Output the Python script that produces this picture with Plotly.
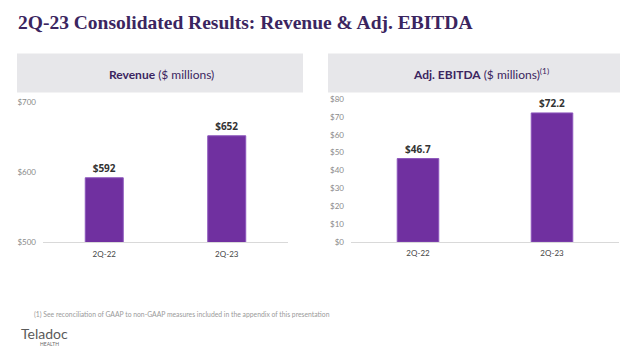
import plotly.graph_objects as go

categories = ["2Q-22", "2Q-23"]
revenue = [592, 652]
ebitda = [46.7, 72.2]
revenue_labels = ["$592", "$652"]
ebitda_labels = ["$46.7", "$72.2"]
rev_ticks = [500, 600, 700]
rev_tick_text = ["$500", "$600", "$700"]
ebitda_ticks = [0, 10, 20, 30, 40, 50, 60, 70, 80]
ebitda_tick_text = ["$0", "$10", "$20", "$30", "$40", "$50", "$60", "$70", "$80"]

W, H = 640, 357
def px(x):
    return x / W
def py(y):
    return 1 - y / H

BAR = "#7030a0"
BAR_EDGE = "#8b55bb"
PURPLE_TXT = "#3b2560"

fig = go.Figure()
fig.add_trace(go.Bar(
    x=categories, y=revenue, text=revenue_labels, textposition="outside",
    textfont=dict(family="Open Sans", size=10, color="#333333", weight="bold"),
    marker=dict(color=BAR, line=dict(color=BAR_EDGE, width=1)),
    xaxis="x", yaxis="y", cliponaxis=False, hoverinfo="skip"))
fig.add_trace(go.Bar(
    x=categories, y=ebitda, text=ebitda_labels, textposition="outside",
    textfont=dict(family="Open Sans", size=10, color="#333333", weight="bold"),
    marker=dict(color=BAR, line=dict(color=BAR_EDGE, width=1)),
    xaxis="x2", yaxis="y2", cliponaxis=False, hoverinfo="skip"))

tickfont = dict(family="Lato", size=8, color="#8a8a8a")
xtickfont = dict(family="Lato", size=8, color="#444444")

fig.update_layout(
    width=W, height=H, margin=dict(l=0, r=0, t=0, b=0),
    paper_bgcolor="white", plot_bgcolor="white",
    showlegend=False, bargap=0.69,
    xaxis=dict(domain=[px(43), px(288)], anchor="y", showgrid=False,
               showline=True, linecolor="#d9d9d9", linewidth=1,
               ticks="", tickfont=xtickfont, ticklabelstandoff=4),
    yaxis=dict(domain=[py(244), py(100)], anchor="x", range=[500, 700],
               tickvals=rev_ticks, ticktext=rev_tick_text, showgrid=False,
               zeroline=False, showline=False, tickfont=tickfont, ticklabelstandoff=6),
    xaxis2=dict(domain=[px(351), px(619)], anchor="y2", showgrid=False,
                showline=True, linecolor="#d9d9d9", linewidth=1,
                ticks="", tickfont=xtickfont, ticklabelstandoff=3),
    yaxis2=dict(domain=[py(244), py(96.7)], anchor="x2", range=[0, 80],
                tickvals=ebitda_ticks, ticktext=ebitda_tick_text, showgrid=False,
                zeroline=False, showline=False, tickfont=tickfont, ticklabelstandoff=6),
)

shapes = [
    dict(type="rect", xref="paper", yref="paper", x0=px(17), x1=px(303),
         y0=py(90), y1=py(50), fillcolor="#e7e7ea", line=dict(width=0), layer="below"),
    dict(type="rect", xref="paper", yref="paper", x0=px(328), x1=px(620),
         y0=py(90), y1=py(50), fillcolor="#e7e7ea", line=dict(width=0), layer="below"),
]
fig.update_layout(shapes=shapes)

def note(text, x, y, xanchor, size, color, family="Lato", weight="normal"):
    return dict(text=text, x=px(x), y=py(y), xref="paper", yref="paper",
                xanchor=xanchor, yanchor="middle", showarrow=False,
                font=dict(family=family, size=size, color=color, weight=weight))

ann = [
    note("2Q-23 Consolidated Results: Revenue & Adj. EBITDA", 16, 18, "left", 19.5,
         PURPLE_TXT, family="Liberation Serif", weight="bold"),
    note("<b>Revenue</b> ($ millions)", 161, 71, "center", 12, PURPLE_TXT),
    note("<b>Adj. EBITDA</b> ($ millions)<sup>(1)</sup>", 481, 71, "center", 12, PURPLE_TXT),
    note("(1) See reconciliation of GAAP to non-GAAP measures included in the appendix of this presentation",
         32, 318, "left", 6.8, "#9a9a9a"),
    note("Teladoc", 19, 338, "left", 14, "#5a5a5a"),
    note("HEALTH", 49, 349, "center", 5, "#6a6a6a"),
]
fig.update_layout(annotations=ann)

fig.write_html("out.html", config={"displayModeBar": False},
               post_script="document.body.style.margin='0';")
